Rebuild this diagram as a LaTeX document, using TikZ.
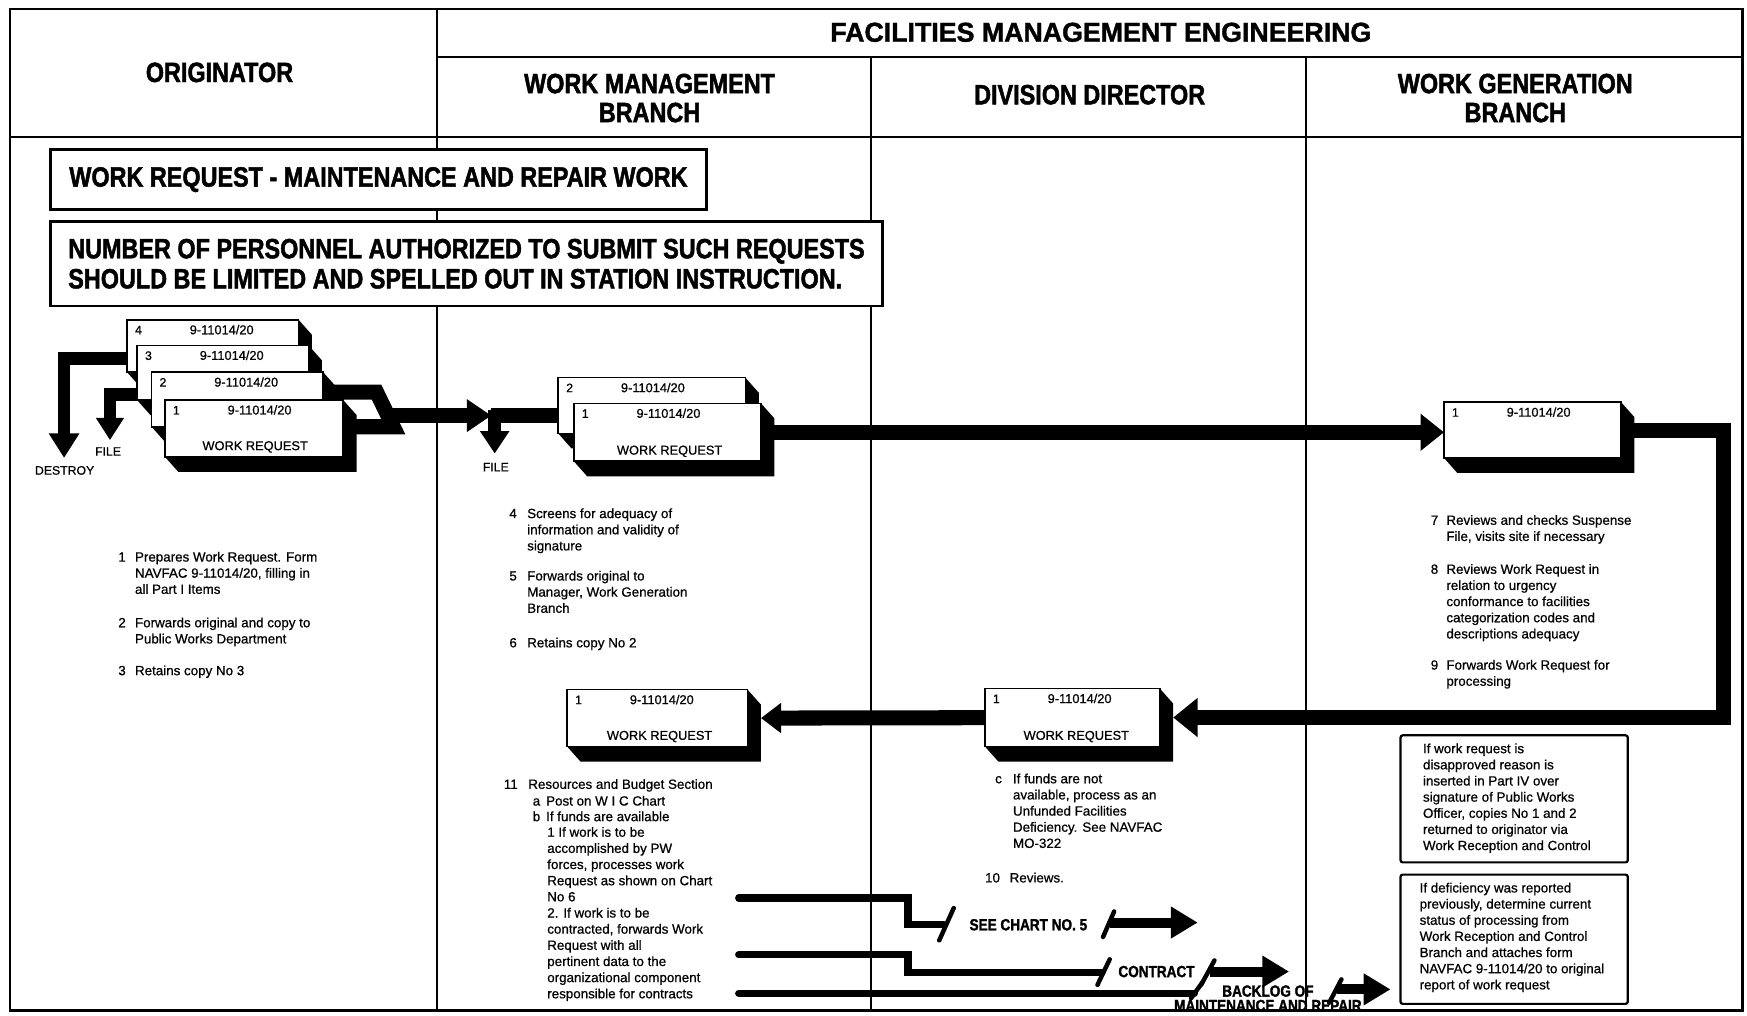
\documentclass[tikz,border=0pt]{standalone}
\usepackage{fontspec}
\setmainfont{Liberation Sans}
\newfontfamily\hdr{Liberation Sans}[FakeStretch=0.84, BoldFeatures={FakeBold=1.6}]
\newfontfamily\fme{Liberation Sans}[FakeStretch=0.98, BoldFeatures={FakeBold=1.3}]
\newfontfamily\bodyf{Liberation Sans}[FakeBold=0.7]
\usetikzlibrary{arrows.meta}
\pgfdeclarelayer{bg}
\pgfsetlayers{bg,main}
\newcommand\tl[1]{\begin{tabular}[t]{@{}l@{}}#1\end{tabular}}
\newcommand\docshadow[1]{\fill (#1.north west) -- (#1.north east) -- ([shift={(12,13.5)}]#1.north east) -- ([shift={(12,13.5)}]#1.south east) -- ([shift={(12,13.5)}]#1.south west) -- (#1.south west) -- cycle;}
\newcommand\docnode[6]{%
  \node[doc, minimum width=#4pt, minimum height=#5pt] (#1) at (#2,#3) {};
  \node[dnum] (#1-n) at ([shift={(7,13)}]#1.north west) {#6};
  \node[dser] (#1-s) at ([shift={(85,13)}]#1.north west) {9-11014/20};}
\begin{document}
\begin{tikzpicture}[x=1pt,y=-1pt,
  outerframe/.style={line width=2.4pt},
  rule/.style={line width=1.8pt},
  lane/.style={line width=1.5pt},
  hd/.style={font=\hdr\bfseries\fontsize{25}{26}\selectfont, align=center, inner sep=0pt},
  tbox/.style={draw, line width=2.4pt, fill=white, anchor=north west, inner sep=0pt, font=\hdr\bfseries\fontsize{25}{27}\selectfont, align=left},
  doc/.style={draw, line width=1.4pt, fill=white, anchor=north west, inner sep=0pt, outer sep=0pt},
  dnum/.style={font=\bodyf\fontsize{11}{13}\selectfont, inner sep=0pt, anchor=base west},
  dser/.style={font=\bodyf\fontsize{11.5}{13}\selectfont, inner sep=0pt, anchor=base},
  body/.style={font=\bodyf\fontsize{12}{14.5}\selectfont, inner sep=0pt, anchor=base west},
  lbl/.style={font=\bodyf\fontsize{11}{13}\selectfont, inner sep=0pt},
  blbl/.style={font=\hdr\bfseries\fontsize{14.5}{13}\selectfont, inner sep=0pt, align=center},
  note/.style={draw, line width=2pt, rounded corners=2pt, anchor=north west, inner sep=0pt},
  fatbar/.style={line width=13.5pt, line join=miter},
  sbar/.style={line width=11.5pt, line join=miter},
  flow/.style={line width=6.5pt, line join=miter, line cap=round},
  farrow/.style={line width=9pt, -{Triangle[length=24pt,width=27pt]}},
  brk/.style={line width=4pt, line cap=round},
]
\useasboundingbox (0,0) rectangle (1568,911);
% ---------- frame and header ----------
\draw[outerframe] (9,8) rectangle (1564,907);
\draw[rule] (392,51) -- (1564,51);
\draw[rule] (9,123) -- (1564,123);
\node[hd] (orig) at (197,65) {ORIGINATOR};
\node[hd, font=\fme\bfseries\fontsize{24.5}{26}\selectfont] (fme) at (988,29) {FACILITIES MANAGEMENT ENGINEERING};
\node[hd] (wmb) at (583,88) {WORK MANAGEMENT\\BRANCH};
\node[hd] (dd) at (978,85) {DIVISION DIRECTOR};
\node[hd] (wgb) at (1360,88) {WORK GENERATION\\BRANCH};
% ---------- title boxes ----------
\node[tbox, minimum width=589pt, minimum height=54pt] (title) at (44,133) {WORK REQUEST - MAINTENANCE AND REPAIR WORK};
\node[tbox, minimum width=747pt, minimum height=76pt] (limit) at (44,197.5) {NUMBER OF PERSONNEL AUTHORIZED TO SUBMIT SUCH REQUESTS\\SHOULD BE LIMITED AND SPELLED OUT IN STATION INSTRUCTION.};
% ---------- documents ----------
\docnode{O4}{114}{287}{154}{47}{4}
\docnode{O3}{123}{310}{154}{49}{3}
\docnode{O2}{136}{334}{154}{49}{2}
\docnode{O1}{148}{359}{160}{51}{1}
\node[dser] (O1-w) at ([shift={(81,-6)}]O1.south west) {WORK REQUEST};
\docnode{W2}{501}{339}{168}{50}{2}
\docnode{W1}{515}{362}{168}{52}{1}
\node[dser] (W1-w) at ([shift={(86,-6)}]W1.south west) {WORK REQUEST};
\docnode{G1}{1296}{361}{159}{50}{1}
\docnode{D1}{884}{618}{157}{52}{1}
\node[dser] (D1-w) at ([shift={(82,-6)}]D1.south west) {WORK REQUEST};
\docnode{W3}{509}{619}{162}{51}{1}
\node[dser] (W3-w) at ([shift={(83,-6)}]W3.south west) {WORK REQUEST};
% ---------- labels of arrows ----------
\coordinate (destroy) at (57.5,411);
\coordinate (ofile) at (98.7,395);
\coordinate (jin) at (441,373);
\coordinate (wfile) at (444,407);
\coordinate (rc) at (1547,386);
\node[lbl, anchor=base] (destroy-l) at (58,426) {DESTROY};
\node[lbl, anchor=base] (ofile-l) at (97,409) {FILE};
\node[lbl, anchor=base] (wfile-l) at (445,423) {FILE};
% ---------- body texts ----------
\node[body] (n1) at (106,504) {1};
\node[body] (t1) at (121,504) {\tl{Prepares Work Request. Form\\NAVFAC 9-11014/20, filling in\\all Part I Items}};
\node[body] (n2) at (106,563) {2};
\node[body] (t2) at (121,563) {\tl{Forwards original and copy to\\Public Works Department}};
\node[body] (n3) at (106,606) {3};
\node[body] (t3) at (121,606) {\tl{Retains copy No 3}};
\node[body] (n4) at (457,465) {4};
\node[body] (t4) at (473,465) {\tl{Screens for adequacy of\\information and validity of\\signature}};
\node[body] (n5) at (457,521) {5};
\node[body] (t5) at (473,521) {\tl{Forwards original to\\Manager, Work Generation\\Branch}};
\node[body] (n6) at (457,581) {6};
\node[body] (t6) at (473,581) {\tl{Retains copy No 2}};
\node[body] (n7) at (1284,471) {7};
\node[body] (t7) at (1298,471) {\tl{Reviews and checks Suspense\\File, visits site if necessary}};
\node[body] (n8) at (1284,515) {8};
\node[body] (t8) at (1298,515) {\tl{Reviews Work Request in\\relation to urgency\\conformance to facilities\\categorization codes and\\descriptions adequacy}};
\node[body] (n9) at (1284,601) {9};
\node[body] (t9) at (1298,601) {\tl{Forwards Work Request for\\processing}};
\node[body] (n11) at (452,708) {11};
\node[body] (t11) at (474,708) {Resources and Budget Section};
\node[body] (n11a) at (478,723) {a};
\node[body] (t11a) at (490,723) {Post on W I C  Chart};
\node[body] (n11b) at (478,737) {b};
\node[body] (t11b) at (490,737) {If funds are available};
\node[body] (t11c) at (491,751) {\tl{1  If work is to be\\accomplished by PW\\forces, processes work\\Request as shown on Chart\\No 6\\2. If work is to be\\contracted, forwards Work\\Request with all\\pertinent data to the\\organizational component\\responsible for contracts}};
\node[body] (nc) at (893,703) {c};
\node[body] (tc) at (909,703) {\tl{If funds are not\\available, process as an\\Unfunded Facilities\\Deficiency. See NAVFAC\\MO-322}};
\node[body] (n10) at (884,792) {10};
\node[body] (t10) at (906,792) {Reviews.};
% ---------- note boxes ----------
\node[note, minimum width=204pt, minimum height=114pt] (boxa) at (1256,659) {};
\node[body] (boxa-t) at (1277,676) {\tl{If work request is\\disapproved  reason is\\inserted in Part IV over\\signature of Public Works\\Officer, copies No 1 and 2\\returned to originator via\\Work Reception and Control}};
\node[note, minimum width=204pt, minimum height=116pt] (boxb) at (1256,784) {};
\node[body] (boxb-t) at (1274,801) {\tl{If deficiency was reported\\previously, determine current\\status of processing from\\Work Reception and Control\\Branch and attaches form\\NAVFAC 9-11014/20 to original\\report of work request}};
% ---------- bottom flows ----------
\coordinate (f1) at (663,806);
\coordinate (f2) at (663,857);
\coordinate (f3) at (663,891.5);
\node[blbl] (see5) at (923,830) {SEE CHART NO. 5};
\node[blbl] (contract) at (1038,872) {CONTRACT};
\node[blbl] (backlog) at (1138,896) {BACKLOG OF\\MAINTENANCE AND REPAIR};
\draw[flow] (f1) -- (815,806) -- (815,830) -- (847,830);
\draw[brk] (843,844) -- (856,815);
\draw[brk] (990,841) -- (1000,818);
\draw[farrow] (996,828) -- (1075,828);
\draw[flow] (f2) -- (815,857) -- (815,873) -- (989,873);
\draw[brk] (985,884) -- (996,861);
\draw[brk] (1078,884) -- (1090,862);
\draw[farrow] (1086,872) -- (1157,872);
\draw[flow] (f3) -- (1072,891.5);
\draw[brk] (1069,896) -- (1079,882);
\draw[brk] (1193,900) -- (1204,879);
\draw[farrow] (1200,888) -- (1248,888);
% ---------- background: lanes, shadows, thick arrows ----------
\begin{pgfonlayer}{bg}
\draw[lane] (392,8) -- (392,907);
\draw[lane] (782,51) -- (782,907);
\draw[lane] (1172,51) -- (1172,907);
\docshadow{O4}\docshadow{O3}\docshadow{O2}\docshadow{O1}
\docshadow{W2}\docshadow{W1}\docshadow{G1}\docshadow{D1}\docshadow{W3}
% originator outputs
\draw[sbar, -{Triangle[length=22pt,width=26pt]}] (O4.center |- 0,322) -| (destroy);
\draw[sbar, -{Triangle[length=20pt,width=24pt]}] (O2.center |- 0,354) -| (ofile);
\draw[fatbar] (O2.center |- 0,352) -- (338,352) -- (353,383) -- (O1.center |- 0,383);
\draw[fatbar, -{Triangle[length=22pt,width=28pt]}] (345,373) -- (jin);
\draw[fatbar] (jin) -- (W2.center |- jin);
\draw[sbar, -{Triangle[length=20pt,width=25pt]}] (444,368) -- (wfile);
% main flow
\draw[fatbar, -{Triangle[length=21pt,width=32pt]}] (W1.center) -- (W1.center -| G1.west);
\draw[fatbar, -{Triangle[length=22pt,width=34pt]}] (G1.center) -- (G1.center -| rc) -- (rc |- D1.center) -- ([xshift=12pt]D1.east);
\draw[fatbar, -{Triangle[length=18pt,width=26pt]}] (D1.center) -- ([xshift=12pt]W3.east);
\end{pgfonlayer}
\end{tikzpicture}
\end{document}
